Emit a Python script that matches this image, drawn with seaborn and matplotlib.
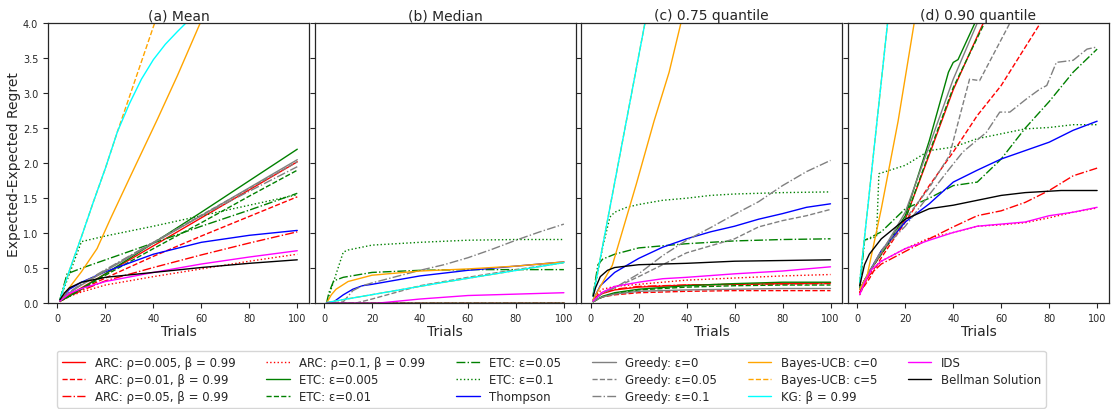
import pandas as pd
import matplotlib
matplotlib.use("Agg")
import matplotlib.pyplot as plt
import seaborn as sns

# --- series labels / styles (legend order) ---
LABELS = ["ARC: ρ=0.005, β = 0.99", "ARC: ρ=0.01, β = 0.99", "ARC: ρ=0.05, β = 0.99",
          "ARC: ρ=0.1, β = 0.99", "ETC: ε=0.005", "ETC: ε=0.01", "ETC: ε=0.05", "ETC: ε=0.1",
          "Thompson", "Greedy: ε=0", "Greedy: ε=0.05", "Greedy: ε=0.1",
          "Bayes-UCB: c=0", "Bayes-UCB: c=5", "KG: β = 0.99", "IDS", "Bellman Solution"]
COLORS = ["red"] * 4 + ["green"] * 4 + ["blue"] + ["gray"] * 3 + ["orange"] * 2 + ["cyan", "magenta", "black"]
STYLES = ["-", "--", "-.", ":", "-", "--", "-.", ":", "-", "-", "--", "-.", "-", "--", "-", "-", "-"]
TITLES = ["(a) Mean", "(b) Median", "(c) 0.75 quantile", "(d) 0.90 quantile"]

# --- (a) mean: (trial, regret) ---
A_ARC1 = [(1, 0.03), (5, 0.12), (10, 0.22), (20, 0.42), (40, 0.82), (60, 1.22), (80, 1.62), (100, 2.02)]
A_ARC2 = [(1, 0.03), (5, 0.1), (10, 0.2), (20, 0.36), (40, 0.67), (60, 0.96), (80, 1.24), (100, 1.52)]
A_ARC3 = [(1, 0.03), (5, 0.1), (10, 0.18), (20, 0.32), (40, 0.51), (60, 0.69), (80, 0.86), (100, 1.02)]
A_ARC4 = [(1, 0.02), (5, 0.1), (10, 0.16), (20, 0.26), (40, 0.38), (60, 0.49), (80, 0.6), (100, 0.7)]
A_ETC1 = [(1, 0.03), (5, 0.1), (10, 0.21), (20, 0.42), (40, 0.86), (60, 1.3), (80, 1.75), (100, 2.2)]
A_ETC2 = [(1, 0.03), (5, 0.1), (10, 0.2), (20, 0.4), (40, 0.78), (60, 1.15), (80, 1.53), (100, 1.9)]
A_ETC3 = [(1, 0.05), (4, 0.42), (10, 0.5), (20, 0.62), (40, 0.86), (60, 1.1), (80, 1.33), (100, 1.57)]
A_ETC4 = [(1, 0.05), (10, 0.88), (20, 0.96), (40, 1.1), (60, 1.25), (80, 1.4), (100, 1.55)]
A_THOMP = [(1, 0.04), (5, 0.2), (10, 0.3), (20, 0.45), (40, 0.7), (60, 0.87), (80, 0.97), (100, 1.04)]
A_GRD1 = [(1, 0.04), (5, 0.15), (10, 0.26), (20, 0.46), (40, 0.86), (60, 1.25), (80, 1.65), (100, 2.05)]
A_GRD2 = [(1, 0.04), (5, 0.15), (10, 0.27), (20, 0.47), (40, 0.87), (60, 1.26), (80, 1.64), (100, 2.02)]
A_GRD3 = [(1, 0.04), (5, 0.16), (10, 0.28), (20, 0.48), (40, 0.87), (60, 1.25), (80, 1.6), (100, 1.95)]
A_UCB0 = [(1, 0.05), (4, 0.18), (10, 0.45), (16.5, 0.78), (22, 1.2), (30.5, 1.82), (41.7, 2.63), (50, 3.25), (59.5, 4.0)]
A_UCB5 = [(1, 0.05), (5, 0.47), (10, 0.95), (15, 1.45), (20, 1.93), (25, 2.45), (30, 2.95), (35, 3.45), (40.5, 4.0)]
A_KG = [(1, 0.05), (5, 0.47), (10, 0.95), (15, 1.45), (20, 1.93), (25, 2.45), (30, 2.85), (35, 3.2),
        (40, 3.48), (45, 3.7), (50, 3.88), (53.5, 4.0)]
A_IDS = [(1, 0.03), (5, 0.14), (10, 0.21), (20, 0.31), (40, 0.44), (60, 0.56), (80, 0.66), (100, 0.75)]
A_BELL = [(1, 0.05), (3, 0.15), (5, 0.22), (10, 0.3), (20, 0.37), (40, 0.44), (60, 0.51), (80, 0.57), (100, 0.62)]

# --- (b) median ---
B_ZERO = [(1, 0.0), (100, 0.0)]
B_ETC3 = [(1, 0.0), (2, 0.15), (4, 0.32), (8, 0.37), (20, 0.44), (40, 0.47), (60, 0.48), (100, 0.48)]
B_ETC4 = [(1, 0.0), (8, 0.73), (10, 0.76), (20, 0.83), (40, 0.87), (60, 0.9), (80, 0.91), (100, 0.91)]
B_THOMP = [(1, 0.0), (4, 0.02), (8, 0.12), (12, 0.2), (16, 0.25), (20, 0.27), (40, 0.39), (60, 0.47),
           (80, 0.53), (100, 0.59)]
B_GRD2 = [(1, 0.0), (13, 0.0), (20, 0.06), (40, 0.25), (60, 0.37), (80, 0.48), (100, 0.58)]
B_GRD3 = [(1, 0.0), (8, 0.02), (12, 0.18), (16, 0.25), (20, 0.29), (30, 0.38), (40, 0.47), (50, 0.55),
          (60, 0.65), (70, 0.77), (80, 0.9), (90, 1.02), (100, 1.13)]
B_UCB0 = [(1, 0.0), (3, 0.12), (5, 0.2), (10, 0.31), (20, 0.4), (40, 0.46), (60, 0.49), (80, 0.53), (100, 0.59)]
B_KG = [(1, 0.01), (50, 0.3), (100, 0.58)]
B_IDS = [(1, 0.0), (22, 0.0), (40, 0.06), (60, 0.11), (80, 0.13), (100, 0.15)]

# --- (c) 0.75 quantile ---
C_ARC1 = [(1, 0.03), (3, 0.1), (5, 0.14), (10, 0.19), (20, 0.23), (40, 0.26), (60, 0.27), (80, 0.28), (100, 0.29)]
C_ARC2 = [(1, 0.02), (3, 0.06), (5, 0.09), (10, 0.12), (20, 0.15), (40, 0.17), (60, 0.18), (80, 0.18), (100, 0.18)]
C_ARC3 = [(1, 0.03), (3, 0.12), (5, 0.16), (10, 0.2), (20, 0.24), (40, 0.26), (60, 0.27), (100, 0.28)]
C_ARC4 = [(1, 0.04), (3, 0.15), (5, 0.2), (10, 0.24), (20, 0.27), (40, 0.33), (60, 0.36), (80, 0.39), (100, 0.41)]
C_ETC1 = [(1, 0.02), (3, 0.06), (5, 0.1), (10, 0.15), (20, 0.2), (40, 0.25), (60, 0.28), (80, 0.3), (100, 0.3)]
C_ETC2 = [(1, 0.02), (3, 0.06), (5, 0.09), (10, 0.14), (20, 0.19), (40, 0.23), (60, 0.25), (80, 0.26), (100, 0.26)]
C_ETC3 = [(1, 0.12), (3, 0.55), (5, 0.63), (10, 0.7), (20, 0.79), (40, 0.85), (60, 0.89), (80, 0.91), (100, 0.92)]
C_ETC4 = [(1, 0.1), (5, 0.8), (8, 1.23), (10, 1.3), (15, 1.37), (20, 1.41), (30, 1.47), (40, 1.5), (50, 1.54),
          (60, 1.56), (80, 1.58), (100, 1.59)]
C_THOMP = [(1, 0.05), (4, 0.25), (10, 0.44), (15, 0.54), (20, 0.64), (30, 0.8), (40, 0.92), (50, 1.02),
           (60, 1.1), (70, 1.2), (80, 1.28), (90, 1.37), (100, 1.42)]
C_GRD1 = [(1, 0.02), (3, 0.06), (5, 0.09), (10, 0.13), (20, 0.17), (40, 0.19), (60, 0.2), (80, 0.21), (100, 0.21)]
C_GRD2 = [(1, 0.03), (5, 0.15), (10, 0.22), (20, 0.38), (30, 0.55), (40, 0.72), (50, 0.82), (60, 0.92),
          (70, 1.09), (80, 1.18), (90, 1.25), (100, 1.34)]
C_GRD3 = [(1, 0.03), (5, 0.15), (10, 0.22), (20, 0.42), (30, 0.68), (40, 0.9), (50, 1.08), (60, 1.27),
          (70, 1.45), (80, 1.68), (90, 1.88), (100, 2.04)]
C_UCB0 = [(1, 0.05), (5, 0.3), (9, 0.54), (19, 1.7), (26.4, 2.6), (32.7, 3.3), (37.6, 4.0)]
C_KG = [(1, 0.1), (22.6, 4.0)]
C_IDS = [(1, 0.03), (3, 0.1), (5, 0.16), (10, 0.24), (20, 0.3), (30, 0.35), (40, 0.37), (60, 0.42), (80, 0.46), (100, 0.52)]
C_BELL = [(1, 0.1), (2, 0.22), (4, 0.38), (7, 0.47), (10, 0.51), (20, 0.55), (40, 0.57), (60, 0.6), (80, 0.61), (100, 0.62)]

# --- (d) 0.90 quantile ---
D_ARC1 = [(1, 0.15), (5, 0.45), (10, 0.7), (20, 1.2), (30, 2.12), (40, 3.05), (52.5, 4.0)]
D_ARC2 = [(1, 0.15), (5, 0.35), (10, 0.65), (20, 1.16), (30, 1.68), (40, 2.16), (50, 2.68), (60, 3.11), (76.3, 4.0)]
D_ARC3 = [(1, 0.16), (5, 0.4), (10, 0.56), (20, 0.74), (30, 0.92), (40, 1.09), (50, 1.25), (60, 1.32),
          (70, 1.44), (80, 1.61), (90, 1.82), (100, 1.93)]
D_ARC4 = [(1, 0.12), (5, 0.42), (10, 0.6), (20, 0.78), (30, 0.93), (40, 1.01), (50, 1.1), (60, 1.12),
          (70, 1.15), (80, 1.22), (90, 1.3), (100, 1.36)]
D_ETC1 = [(1, 0.2), (5, 0.45), (10, 0.72), (15, 0.98), (20, 1.25), (30, 2.32), (38, 3.3), (40, 3.44), (42, 3.48), (49, 4.0)]
D_ETC2 = [(1, 0.2), (5, 0.45), (10, 0.7), (20, 1.2), (30, 2.15), (40, 3.08), (53, 4.0)]
D_ETC3 = [(1, 0.2), (3, 0.9), (5, 0.93), (10, 1.02), (20, 1.35), (30, 1.5), (40, 1.68), (50, 1.73), (60, 2.06),
          (70, 2.5), (80, 2.88), (90, 3.3), (100, 3.63)]
D_ETC4 = [(1, 0.3), (3, 0.9), (8, 0.95), (9, 1.85), (20, 1.97), (30, 2.18), (40, 2.23), (50, 2.35), (60, 2.42),
          (70, 2.49), (80, 2.51), (90, 2.55), (100, 2.55)]
D_THOMP = [(1, 0.2), (5, 0.45), (10, 0.75), (20, 1.16), (30, 1.42), (40, 1.73), (50, 1.9), (60, 2.06),
           (70, 2.18), (80, 2.3), (90, 2.47), (100, 2.6)]
D_GRD1 = [(1, 0.2), (5, 0.45), (10, 0.72), (20, 1.3), (30, 2.25), (40, 3.2), (50, 4.0)]
D_GRD2 = [(1, 0.2), (5, 0.45), (10, 0.75), (20, 1.2), (30, 1.65), (34, 1.87), (38.4, 2.11), (46.8, 3.2),
          (51, 3.18), (63.6, 4.0)]
D_GRD3 = [(1, 0.2), (5, 0.45), (10, 0.75), (20, 1.1), (30, 1.55), (38.4, 1.92), (44, 2.16), (53.8, 2.44),
          (59.4, 2.73), (63.6, 2.73), (70.6, 2.92), (76.2, 3.06), (79, 3.11), (83, 3.44), (90, 3.47),
          (95.8, 3.63), (100, 3.66)]
D_UCB0 = [(1, 0.2), (4, 0.38), (10, 1.35), (17, 2.6), (23.7, 4.0)]
D_KG = [(1, 0.3), (12.6, 4.0)]
D_IDS = [(1, 0.12), (3, 0.3), (6, 0.48), (10, 0.6), (20, 0.78), (30, 0.9), (40, 1.01), (50, 1.1), (60, 1.13),
         (70, 1.16), (80, 1.25), (90, 1.3), (100, 1.37)]
D_BELL = [(1, 0.25), (3, 0.55), (5, 0.7), (10, 0.92), (20, 1.2), (30, 1.35), (40, 1.4), (50, 1.47), (60, 1.54),
          (70, 1.58), (85, 1.61), (100, 1.61)]

PANELS = [
    [A_ARC1, A_ARC2, A_ARC3, A_ARC4, A_ETC1, A_ETC2, A_ETC3, A_ETC4, A_THOMP,
     A_GRD1, A_GRD2, A_GRD3, A_UCB0, A_UCB5, A_KG, A_IDS, A_BELL],
    [B_ZERO, B_ZERO, B_ZERO, B_ZERO, B_ZERO, B_ZERO, B_ETC3, B_ETC4, B_THOMP,
     B_ZERO, B_GRD2, B_GRD3, B_UCB0, B_KG, B_KG, B_IDS, B_ZERO],
    [C_ARC1, C_ARC2, C_ARC3, C_ARC4, C_ETC1, C_ETC2, C_ETC3, C_ETC4, C_THOMP,
     C_GRD1, C_GRD2, C_GRD3, C_UCB0, C_KG, C_KG, C_IDS, C_BELL],
    [D_ARC1, D_ARC2, D_ARC3, D_ARC4, D_ETC1, D_ETC2, D_ETC3, D_ETC4, D_THOMP,
     D_GRD1, D_GRD2, D_GRD3, D_UCB0, D_KG, D_KG, D_IDS, D_BELL],
]

sns.set_style("ticks")
plt.rcParams["font.family"] = ["DejaVu Sans"]

fig, axes = plt.subplots(1, 4, figsize=(11.14, 4.10), dpi=100, sharey=True)
fig.subplots_adjust(left=0.0431, right=0.9955, bottom=0.258, top=0.941, wspace=0.021)

for i, ax in enumerate(axes):
    for series, label, color, ls in zip(PANELS[i], LABELS, COLORS, STYLES):
        df = pd.DataFrame(series, columns=["trial", "regret"])
        sns.lineplot(data=df, x="trial", y="regret", ax=ax, color=color, linestyle=ls,
                     linewidth=1.0, label=label if i == 0 else None, sort=True)
    if ax.get_legend() is not None:
        ax.get_legend().remove()
    ax.set_ylim(0, 4)
    ax.set_xlim(-3.95, 104.95)
    ax.set_xticks([0, 20, 40, 60, 80, 100])
    ax.set_yticks([0, 0.5, 1, 1.5, 2, 2.5, 3, 3.5, 4])
    ax.tick_params(labelsize=7, length=3.5, width=0.8)
    ax.set_title(TITLES[i], fontsize=10, pad=3)
    ax.set_xlabel("Trials", fontsize=10, labelpad=1)
    ax.set_ylabel("")
    for sp in ax.spines.values():
        sp.set_visible(True)
        sp.set_linewidth(0.9)

axes[0].set_ylabel("Expected-Expected Regret", fontsize=10, labelpad=1)

handles, labels = axes[0].get_legend_handles_labels()
fig.legend(handles, labels, loc="lower center", bbox_to_anchor=(0.495, 0.003), ncol=6,
           fontsize=8.5, frameon=True, borderaxespad=0, labelspacing=0.35, columnspacing=2.6)

fig.savefig("out.png", dpi=100)
